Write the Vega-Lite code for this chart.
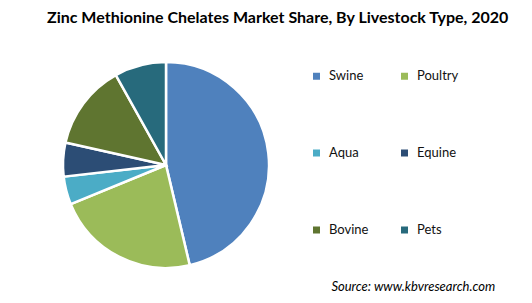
{
  "$schema": "https://vega.github.io/schema/vega-lite/v6.json",
  "padding": {"left": 47, "top": 9, "right": 4, "bottom": 4},
  "background": "white",
  "title": {"text": "Source:  www.kbvresearch.com", "orient": "bottom", "anchor": "end", "frame": "bounds", "font": "Lato", "fontStyle": "italic", "fontWeight": "normal", "fontSize": 13, "color": "#000000", "offset": 7.5, "dx": -14},
  "vconcat": [
    {
      "width": 206,
      "height": 206,
      "title": {"text": "Zinc Methionine Chelates Market Share, By Livestock Type, 2020", "anchor": "start", "frame": "group", "dx": -16, "offset": 31.3, "font": "Lato", "fontSize": 16, "fontWeight": "bold", "color": "#000000"},
      "data": {"values": [
        {"type": "Swine", "share": 46.3, "n": 1},
        {"type": "Poultry", "share": 22.5, "n": 2},
        {"type": "Aqua", "share": 4.4, "n": 3},
        {"type": "Equine", "share": 5.3, "n": 4},
        {"type": "Bovine", "share": 13.4, "n": 5},
        {"type": "Pets", "share": 8.1, "n": 6}
      ]},
      "mark": {"type": "arc", "outerRadius": 103, "stroke": "white", "strokeWidth": 2.5},
      "encoding": {
        "theta": {"field": "share", "type": "quantitative", "stack": true},
        "order": {"field": "n", "type": "quantitative"},
        "color": {
          "field": "type",
          "type": "nominal",
          "scale": {"domain": ["Swine", "Aqua", "Bovine", "Poultry", "Equine", "Pets"], "range": ["#4F81BD", "#4BACC6", "#5F7530", "#9BBB59", "#2C4D75", "#276A7C"]},
          "legend": {"orient": "none", "legendX": 247, "legendY": 7.5, "columns": 2, "title": null, "symbolType": "square", "symbolSize": 49, "symbolStrokeWidth": 0, "labelFont": "Lato", "labelFontSize": 13, "labelColor": "#111111", "labelOffset": 6, "rowPadding": 63, "columnPadding": 29, "padding": 0}
        }
      }
    }
  ],
  "config": {"view": {"stroke": null}}
}
